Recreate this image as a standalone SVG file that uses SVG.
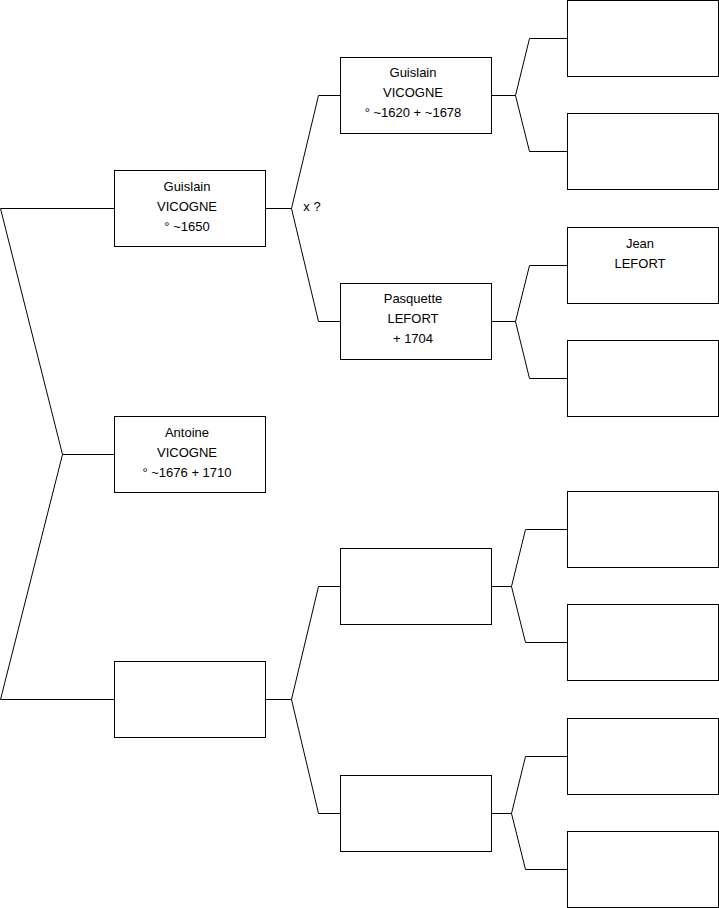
<svg xmlns="http://www.w3.org/2000/svg" width="719" height="908" viewBox="0 0 719 908">
<style>
.box{fill:#fff;stroke:#000;stroke-width:1}
.ln{fill:none;stroke:#000;stroke-width:1}
text{font-family:"Liberation Sans",Arial,sans-serif;font-size:13px;fill:#000;text-anchor:middle}
</style>
<rect width="719" height="908" fill="#fff"/>
<g id="connectors">
<polyline class="ln" points="114,208.5 0.5,208.5 62.5,454.5 0.5,699.5 114,699.5"/>
<line class="ln" x1="62.5" y1="454.5" x2="114" y2="454.5"/>
<polyline class="ln" points="340,95.5 318.5,95.5 291.5,208.5 318.5,321.5 340,321.5"/>
<line class="ln" x1="265" y1="208.5" x2="291.5" y2="208.5"/>
<polyline class="ln" points="340,586.5 318.5,586.5 291.5,699.5 318.5,813.5 340,813.5"/>
<line class="ln" x1="265" y1="699.5" x2="291.5" y2="699.5"/>
<polyline class="ln" points="567,38.5 529.5,38.5 515.5,95.5 529.5,151.5 567,151.5"/>
<line class="ln" x1="491" y1="95.5" x2="515.5" y2="95.5"/>
<polyline class="ln" points="567,265.5 529.5,265.5 515.5,321.5 529.5,378.5 567,378.5"/>
<line class="ln" x1="491" y1="321.5" x2="515.5" y2="321.5"/>
<polyline class="ln" points="567,529.5 525.5,529.5 511.5,586.5 525.5,642.5 567,642.5"/>
<line class="ln" x1="491" y1="586.5" x2="511.5" y2="586.5"/>
<polyline class="ln" points="567,756.5 525.5,756.5 511.5,813.5 525.5,869.5 567,869.5"/>
<line class="ln" x1="491" y1="813.5" x2="511.5" y2="813.5"/>
<text x="312" y="211">x ?</text>
</g>
<g id="n-guislain-1650">
<rect class="box" x="114.5" y="170.5" width="151" height="76"/>
<text x="187" y="191">Guislain</text>
<text x="187" y="211">VICOGNE</text>
<text x="187" y="231">° ~1650</text>
</g>
<g id="n-antoine">
<rect class="box" x="114.5" y="416.5" width="151" height="76"/>
<text x="187" y="437">Antoine</text>
<text x="187" y="457">VICOGNE</text>
<text x="187" y="477">° ~1676 + 1710</text>
</g>
<g id="n-mother">
<rect class="box" x="114.5" y="661.5" width="151" height="76"/>
</g>
<g id="n-guislain-1620">
<rect class="box" x="340.5" y="57.5" width="151" height="76"/>
<text x="413" y="77">Guislain</text>
<text x="413" y="97">VICOGNE</text>
<text x="413" y="117">° ~1620 + ~1678</text>
</g>
<g id="n-pasquette">
<rect class="box" x="340.5" y="283.5" width="151" height="76"/>
<text x="413" y="303">Pasquette</text>
<text x="413" y="323">LEFORT</text>
<text x="413" y="343">+ 1704</text>
</g>
<g id="n-mf">
<rect class="box" x="340.5" y="548.5" width="151" height="76"/>
</g>
<g id="n-mm">
<rect class="box" x="340.5" y="775.5" width="151" height="76"/>
</g>
<g id="n-ffff">
<rect class="box" x="567.5" y="0.5" width="151" height="76"/>
</g>
<g id="n-fffm">
<rect class="box" x="567.5" y="113.5" width="151" height="76"/>
</g>
<g id="n-jean">
<rect class="box" x="567.5" y="227.5" width="151" height="76"/>
<text x="640" y="248">Jean</text>
<text x="640" y="268">LEFORT</text>
</g>
<g id="n-ffmm">
<rect class="box" x="567.5" y="340.5" width="151" height="76"/>
</g>
<g id="n-mff">
<rect class="box" x="567.5" y="491.5" width="151" height="76"/>
</g>
<g id="n-mfm">
<rect class="box" x="567.5" y="604.5" width="151" height="76"/>
</g>
<g id="n-mmf">
<rect class="box" x="567.5" y="718.5" width="151" height="76"/>
</g>
<g id="n-mmm">
<rect class="box" x="567.5" y="831.5" width="151" height="76"/>
</g>
</svg>
